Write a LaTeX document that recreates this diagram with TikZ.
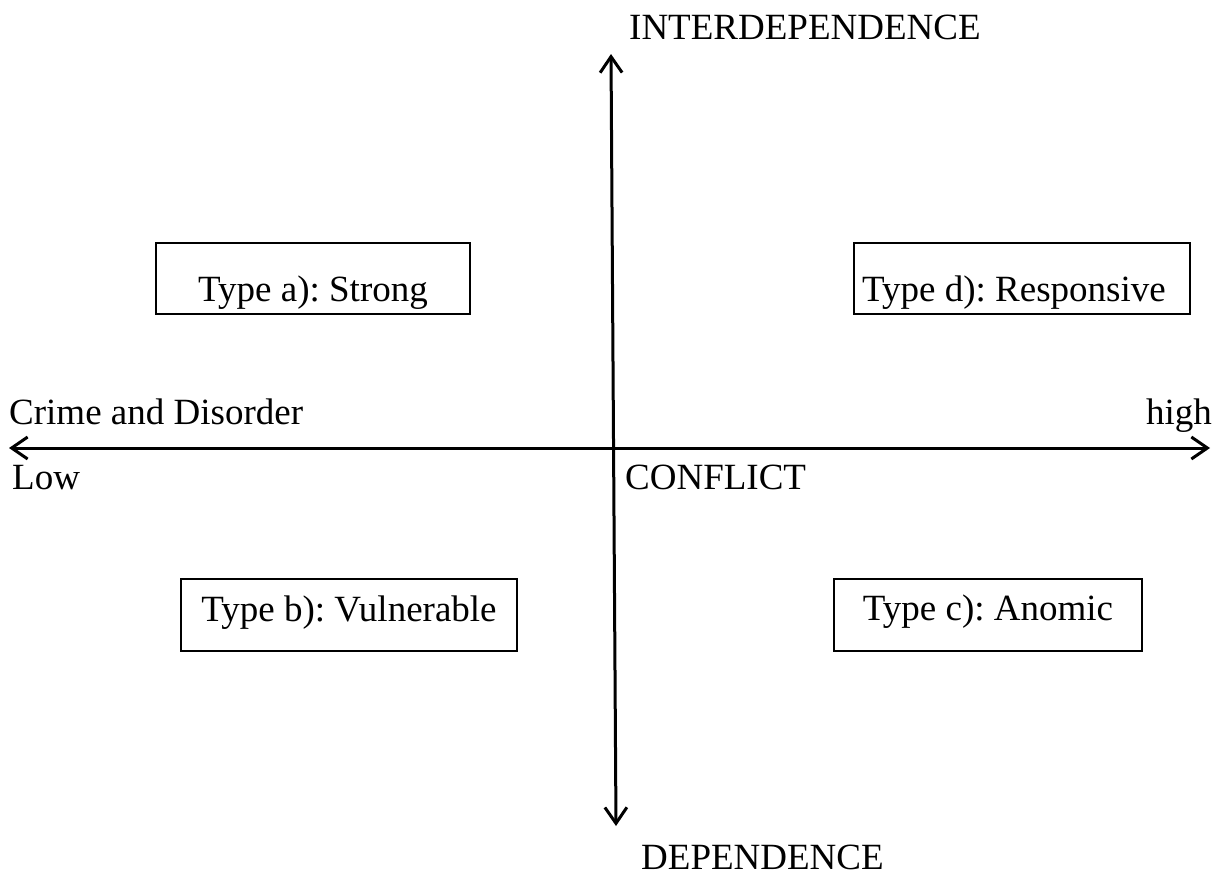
\documentclass[tikz,border=0pt]{standalone}
\usepackage{fontspec}
\setmainfont{Liberation Serif}
\usetikzlibrary{arrows.meta}
\frenchspacing
\begin{document}
\begin{tikzpicture}[x=1pt,y=-1pt,
  txt/.style={inner sep=0pt, font=\frenchspacing\fontsize{37}{44}\selectfont},
  typebox/.style={draw, line width=2pt, inner sep=0pt, anchor=north west,
    font=\frenchspacing\fontsize{37}{44}\selectfont},
  axisline/.style={line width=3pt, {Straight Barb[length=16pt,width=22pt,line width=3pt]}-{Straight Barb[length=16pt,width=22pt,line width=3pt]}}]
\useasboundingbox (0,0) rectangle (1220,876);
% axes
\coordinate (top) at (611,54);
\coordinate (bot) at (616,826);
\coordinate (lft) at (9,448);
\coordinate (rgt) at (1210,448);
\draw[axisline] (bot) -- (top);
\draw[axisline] (lft) -- (rgt);
% axis labels
\node[txt, anchor=base west] (inter) at (629,39) {INTERDEPENDENCE};
\node[txt, anchor=base west] (dep) at (641,869) {DEPENDENCE};
\node[txt, anchor=base west] (crime) at (9,424) {Crime and Disorder};
\node[txt, anchor=base east] (high) at (1212,424) {high};
\node[txt, anchor=base west] (low) at (12,489) {Low};
\node[txt, anchor=base west] (confl) at (625,489) {CONFLICT};
% boxes
\node[typebox, minimum width=314pt, text height=58pt, text depth=13pt] (ta) at (155,242) {Type a): Strong};
\node[typebox, minimum width=336pt, text height=58pt, text depth=13pt] (td) at (853,242) {\hspace*{-16pt}Type d): Responsive};
\node[typebox, minimum width=336pt, text height=42pt, text depth=30pt] (tb) at (180,578) {Type b): Vulnerable};
\node[typebox, minimum width=308pt, text height=41pt, text depth=31pt] (tc) at (833,578) {Type c): Anomic};
\end{tikzpicture}
\end{document}
